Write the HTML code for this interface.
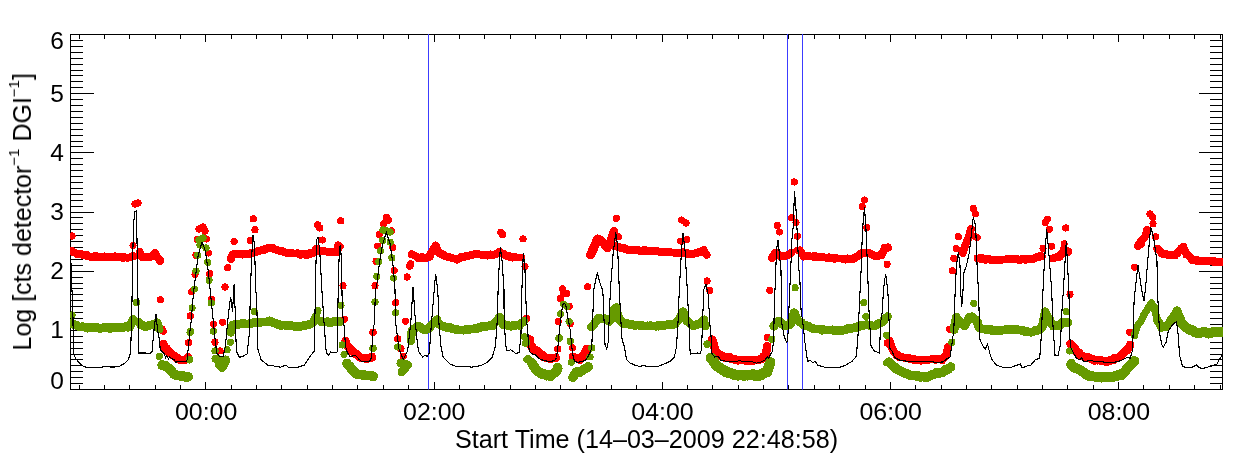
<!DOCTYPE html><html><head><meta charset="utf-8"><style>html,body{margin:0;padding:0;background:#fff;}svg{display:block} text{will-change:transform}</style></head><body>
<svg width="1240" height="460" viewBox="0 0 1240 460" font-family="Liberation Sans, sans-serif">
<rect width="1240" height="460" fill="#fff"/>
<defs><clipPath id="c"><rect x="70" y="34" width="1153" height="356"/></clipPath></defs>
<path d="M70.5,34 V390 M1222.5,34 V390 M70,34.5 H1223 M70,389.5 H1223 M71,383.5 h12 M1222,383.5 h-12 M71,377.5 h12 M1222,377.5 h-12 M71,371.5 h12 M1222,371.5 h-12 M71,365.5 h12 M1222,365.5 h-12 M71,359.5 h12 M1222,359.5 h-12 M71,354.5 h12 M1222,354.5 h-12 M71,348.5 h12 M1222,348.5 h-12 M71,342.5 h12 M1222,342.5 h-12 M71,336.5 h12 M1222,336.5 h-12 M71,330.5 h23 M1222,330.5 h-23 M71,324.5 h12 M1222,324.5 h-12 M71,318.5 h12 M1222,318.5 h-12 M71,312.5 h12 M1222,312.5 h-12 M71,306.5 h12 M1222,306.5 h-12 M71,300.5 h12 M1222,300.5 h-12 M71,294.5 h12 M1222,294.5 h-12 M71,288.5 h12 M1222,288.5 h-12 M71,283.5 h12 M1222,283.5 h-12 M71,277.5 h12 M1222,277.5 h-12 M71,271.5 h23 M1222,271.5 h-23 M71,265.5 h12 M1222,265.5 h-12 M71,259.5 h12 M1222,259.5 h-12 M71,253.5 h12 M1222,253.5 h-12 M71,247.5 h12 M1222,247.5 h-12 M71,241.5 h12 M1222,241.5 h-12 M71,235.5 h12 M1222,235.5 h-12 M71,229.5 h12 M1222,229.5 h-12 M71,223.5 h12 M1222,223.5 h-12 M71,217.5 h12 M1222,217.5 h-12 M71,212.5 h23 M1222,212.5 h-23 M71,206.5 h12 M1222,206.5 h-12 M71,200.5 h12 M1222,200.5 h-12 M71,194.5 h12 M1222,194.5 h-12 M71,188.5 h12 M1222,188.5 h-12 M71,182.5 h12 M1222,182.5 h-12 M71,176.5 h12 M1222,176.5 h-12 M71,170.5 h12 M1222,170.5 h-12 M71,164.5 h12 M1222,164.5 h-12 M71,158.5 h12 M1222,158.5 h-12 M71,152.5 h23 M1222,152.5 h-23 M71,146.5 h12 M1222,146.5 h-12 M71,141.5 h12 M1222,141.5 h-12 M71,135.5 h12 M1222,135.5 h-12 M71,129.5 h12 M1222,129.5 h-12 M71,123.5 h12 M1222,123.5 h-12 M71,117.5 h12 M1222,117.5 h-12 M71,111.5 h12 M1222,111.5 h-12 M71,105.5 h12 M1222,105.5 h-12 M71,99.5 h12 M1222,99.5 h-12 M71,93.5 h23 M1222,93.5 h-23 M71,87.5 h12 M1222,87.5 h-12 M71,81.5 h12 M1222,81.5 h-12 M71,75.5 h12 M1222,75.5 h-12 M71,70.5 h12 M1222,70.5 h-12 M71,64.5 h12 M1222,64.5 h-12 M71,58.5 h12 M1222,58.5 h-12 M71,52.5 h12 M1222,52.5 h-12 M71,46.5 h12 M1222,46.5 h-12 M71,40.5 h12 M1222,40.5 h-12 M79.5,389 v-4 M79.5,35 v4 M104.5,389 v-4 M104.5,35 v4 M129.5,389 v-4 M129.5,35 v4 M155.5,389 v-4 M155.5,35 v4 M180.5,389 v-4 M180.5,35 v4 M205.5,389 v-7 M205.5,35 v7 M231.5,389 v-4 M231.5,35 v4 M256.5,389 v-4 M256.5,35 v4 M281.5,389 v-4 M281.5,35 v4 M307.5,389 v-4 M307.5,35 v4 M332.5,389 v-4 M332.5,35 v4 M357.5,389 v-4 M357.5,35 v4 M383.5,389 v-4 M383.5,35 v4 M408.5,389 v-4 M408.5,35 v4 M434.5,389 v-7 M434.5,35 v7 M459.5,389 v-4 M459.5,35 v4 M484.5,389 v-4 M484.5,35 v4 M510.5,389 v-4 M510.5,35 v4 M535.5,389 v-4 M535.5,35 v4 M560.5,389 v-4 M560.5,35 v4 M586.5,389 v-4 M586.5,35 v4 M611.5,389 v-4 M611.5,35 v4 M636.5,389 v-4 M636.5,35 v4 M662.5,389 v-7 M662.5,35 v7 M687.5,389 v-4 M687.5,35 v4 M712.5,389 v-4 M712.5,35 v4 M738.5,389 v-4 M738.5,35 v4 M763.5,389 v-4 M763.5,35 v4 M788.5,389 v-4 M788.5,35 v4 M814.5,389 v-4 M814.5,35 v4 M839.5,389 v-4 M839.5,35 v4 M865.5,389 v-4 M865.5,35 v4 M890.5,389 v-7 M890.5,35 v7 M915.5,389 v-4 M915.5,35 v4 M941.5,389 v-4 M941.5,35 v4 M966.5,389 v-4 M966.5,35 v4 M991.5,389 v-4 M991.5,35 v4 M1017.5,389 v-4 M1017.5,35 v4 M1042.5,389 v-4 M1042.5,35 v4 M1067.5,389 v-4 M1067.5,35 v4 M1093.5,389 v-4 M1093.5,35 v4 M1118.5,389 v-7 M1118.5,35 v7 M1143.5,389 v-4 M1143.5,35 v4 M1169.5,389 v-4 M1169.5,35 v4 M1194.5,389 v-4 M1194.5,35 v4 M1220.5,389 v-4 M1220.5,35 v4" stroke="#000" stroke-width="1" fill="none" shape-rendering="crispEdges"/>
<g stroke="#3c3cff" stroke-width="1" fill="none">
<line x1="428.5" y1="34" x2="428.5" y2="389.5"/>
<line x1="787.5" y1="34" x2="787.5" y2="389.5"/>
<line x1="802.5" y1="34" x2="802.5" y2="389.5"/>
</g>
<g clip-path="url(#c)" fill="#ff0000" stroke="#ff0000" shape-rendering="crispEdges">
<polyline points="70.5,251.0 72.0,251.5 78.0,254.0 90.0,256.5 110.0,257.0 130.0,257.5 133.0,256.0" fill="none" stroke-width="7.800000000000001" stroke-linecap="round" stroke-linejoin="round"/>
<polyline points="139.7,252.0 142.0,257.0 150.0,257.5 155.0,253.0 158.0,258.0 160.0,261.0" fill="none" stroke-width="7.800000000000001" stroke-linecap="round" stroke-linejoin="round"/>
<polyline points="163.5,344.0 164.4,346.5 169.1,351.9 173.9,356.0 179.9,359.6 184.7,360.2 187.5,358.0" fill="none" stroke-width="8.4" stroke-linecap="round" stroke-linejoin="round"/>
<polyline points="230.8,258.5 233.0,254.1 240.0,254.0 248.0,254.1 256.7,252.0 268.7,247.6 276.3,249.8 287.1,253.0 298.0,253.7 306.7,254.8 313.2,253.0 316.5,248.7" fill="none" stroke-width="7.800000000000001" stroke-linecap="round" stroke-linejoin="round"/>
<polyline points="320.8,250.9 330.6,252.0 337.1,252.0 338.2,245.4" fill="none" stroke-width="7.800000000000001" stroke-linecap="round" stroke-linejoin="round"/>
<polyline points="345.5,341.0 347.0,345.5 351.7,351.0 356.5,354.5 361.3,357.8 367.3,358.7 372.1,357.5" fill="none" stroke-width="8.4" stroke-linecap="round" stroke-linejoin="round"/>
<polyline points="411.9,254.1 418.4,257.4 425.0,258.5 429.3,256.3 432.3,250.9 435.6,245.4 438.9,253.0 445.4,256.3 456.3,259.1 465.0,256.3 475.8,254.1 484.5,255.2 493.2,255.2 499.7,252.0 505.2,255.2 515.0,257.4 521.5,257.4" fill="none" stroke-width="7.800000000000001" stroke-linecap="round" stroke-linejoin="round"/>
<polyline points="531.0,345.0 532.0,348.0 538.0,352.0 543.9,357.0 549.9,358.7 555.9,358.0" fill="none" stroke-width="8.4" stroke-linecap="round" stroke-linejoin="round"/>
<polyline points="573.2,357.0 579.8,359.6 584.6,353.9 586.5,349.0" fill="none" stroke-width="8.4" stroke-linecap="round" stroke-linejoin="round"/>
<polyline points="590.4,254.8 594.1,247.6 597.3,238.9 600.0,240.0 602.8,242.2 605.0,245.0 607.1,247.6 610.4,242.2 613.7,232.4" fill="none" stroke-width="8.9" stroke-linecap="round" stroke-linejoin="round"/>
<polyline points="608.0,247.6 610.2,244.3 618.9,247.6 629.7,249.8 640.6,250.9 651.5,250.9 662.3,252.0 673.2,252.6 679.7,253.0 686.3,253.0 692.8,254.1 699.3,252.0 703.7,249.8 706.3,254.8" fill="none" stroke-width="7.800000000000001" stroke-linecap="round" stroke-linejoin="round"/>
<polyline points="712.4,340.0 714.6,348.0 717.0,353.0 723.0,356.2 734.9,359.5 746.9,360.5 758.8,360.2 764.0,357.0 766.0,353.5 767.2,346.0" fill="none" stroke-width="8.4" stroke-linecap="round" stroke-linejoin="round"/>
<polyline points="771.9,258.0 775.2,252.6 780.6,255.9 785.0,255.9 789.3,254.8 791.5,252.6" fill="none" stroke-width="7.800000000000001" stroke-linecap="round" stroke-linejoin="round"/>
<polyline points="800.0,250.4 803.2,255.9 809.7,256.5 820.6,257.0 831.5,258.0 842.3,258.7 853.2,259.1 857.6,255.9 861.9,252.6 868.4,252.6 875.0,255.9 881.5,254.8 884.7,248.3 888.0,247.2" fill="none" stroke-width="7.800000000000001" stroke-linecap="round" stroke-linejoin="round"/>
<polyline points="889.5,341.0 891.0,346.0 894.0,352.0 897.0,355.5 903.0,357.5 909.0,358.7 921.0,360.2 932.8,359.3 942.4,359.4 946.5,354.0 948.0,347.0" fill="none" stroke-width="8.0" stroke-linecap="round" stroke-linejoin="round"/>
<polyline points="962.8,253.0 965.0,245.4 968.2,238.9 971.0,229.1" fill="none" stroke-width="7.800000000000001" stroke-linecap="round" stroke-linejoin="round"/>
<polyline points="977.8,258.5 985.4,259.1 994.1,260.0 1002.8,259.6 1011.5,259.1 1022.3,259.6 1033.2,258.5 1041.9,256.3" fill="none" stroke-width="7.800000000000001" stroke-linecap="round" stroke-linejoin="round"/>
<polyline points="1052.8,258.5 1059.3,256.3 1061.3,255.2 1064.0,250.0 1068.4,252.0" fill="none" stroke-width="7.800000000000001" stroke-linecap="round" stroke-linejoin="round"/>
<polyline points="1070.4,343.5 1072.5,346.0 1077.0,351.5 1083.0,356.6 1094.9,359.9 1106.9,361.1 1118.8,357.5 1127.2,350.0 1130.2,345.5" fill="none" stroke-width="8.4" stroke-linecap="round" stroke-linejoin="round"/>
<polyline points="1138.0,246.1 1140.6,242.2 1143.3,238.9 1145.0,236.7 1147.1,230.2" fill="none" stroke-width="7.800000000000001" stroke-linecap="round" stroke-linejoin="round"/>
<polyline points="1157.4,248.7 1161.7,253.0 1168.3,255.2 1174.8,255.2 1181.3,248.7 1183.5,247.6 1186.7,254.1 1192.2,259.6 1200.9,260.7 1209.6,260.7 1218.3,261.7 1223.0,261.7" fill="none" stroke-width="7.800000000000001" stroke-linecap="round" stroke-linejoin="round"/>
</g>
<g clip-path="url(#c)" fill="#ff0000" shape-rendering="crispEdges">
<circle cx="70.1" cy="251.7" r="3.8"/>
<circle cx="72.3" cy="251.0" r="3.8"/>
<circle cx="75.0" cy="252.6" r="3.8"/>
<circle cx="78.2" cy="254.6" r="3.8"/>
<circle cx="80.6" cy="253.7" r="3.8"/>
<circle cx="84.3" cy="255.1" r="3.8"/>
<circle cx="87.3" cy="254.9" r="3.8"/>
<circle cx="89.9" cy="256.9" r="3.8"/>
<circle cx="92.2" cy="257.5" r="3.8"/>
<circle cx="95.4" cy="255.7" r="3.8"/>
<circle cx="97.0" cy="256.8" r="3.8"/>
<circle cx="100.4" cy="256.5" r="3.8"/>
<circle cx="102.2" cy="256.7" r="3.8"/>
<circle cx="104.5" cy="256.3" r="3.8"/>
<circle cx="107.4" cy="256.9" r="3.8"/>
<circle cx="109.7" cy="256.5" r="3.8"/>
<circle cx="112.2" cy="257.0" r="3.8"/>
<circle cx="114.8" cy="256.2" r="3.8"/>
<circle cx="117.8" cy="257.3" r="3.8"/>
<circle cx="120.1" cy="256.6" r="3.8"/>
<circle cx="123.0" cy="258.0" r="3.8"/>
<circle cx="124.6" cy="257.0" r="3.8"/>
<circle cx="127.7" cy="257.9" r="3.8"/>
<circle cx="130.4" cy="257.3" r="3.8"/>
<circle cx="133.3" cy="256.3" r="3.8"/>
<circle cx="139.5" cy="252.2" r="3.8"/>
<circle cx="141.2" cy="255.2" r="3.8"/>
<circle cx="142.0" cy="257.2" r="3.8"/>
<circle cx="144.2" cy="256.7" r="3.8"/>
<circle cx="147.6" cy="257.2" r="3.8"/>
<circle cx="149.7" cy="257.6" r="3.8"/>
<circle cx="152.7" cy="255.6" r="3.8"/>
<circle cx="154.9" cy="252.9" r="3.8"/>
<circle cx="156.5" cy="256.1" r="3.8"/>
<circle cx="158.0" cy="257.8" r="3.8"/>
<circle cx="160.0" cy="260.1" r="3.8"/>
<circle cx="163.0" cy="344.4" r="4.1"/>
<circle cx="164.9" cy="346.7" r="4.1"/>
<circle cx="166.6" cy="348.5" r="4.1"/>
<circle cx="169.1" cy="352.9" r="4.1"/>
<circle cx="171.8" cy="354.0" r="4.1"/>
<circle cx="174.3" cy="355.5" r="4.1"/>
<circle cx="176.9" cy="358.7" r="4.1"/>
<circle cx="180.0" cy="359.5" r="4.1"/>
<circle cx="184.5" cy="360.3" r="4.1"/>
<circle cx="188.0" cy="357.0" r="4.1"/>
<circle cx="231.1" cy="259.1" r="3.8"/>
<circle cx="233.4" cy="254.6" r="3.8"/>
<circle cx="236.8" cy="254.1" r="3.8"/>
<circle cx="240.1" cy="253.9" r="3.8"/>
<circle cx="242.2" cy="254.8" r="3.8"/>
<circle cx="245.4" cy="253.5" r="3.8"/>
<circle cx="248.0" cy="254.1" r="3.8"/>
<circle cx="250.8" cy="253.1" r="3.8"/>
<circle cx="253.8" cy="252.9" r="3.8"/>
<circle cx="256.8" cy="251.9" r="3.8"/>
<circle cx="258.6" cy="250.6" r="3.8"/>
<circle cx="261.2" cy="250.4" r="3.8"/>
<circle cx="264.3" cy="250.0" r="3.8"/>
<circle cx="266.6" cy="249.1" r="3.8"/>
<circle cx="268.5" cy="248.3" r="3.8"/>
<circle cx="271.4" cy="247.5" r="3.8"/>
<circle cx="273.3" cy="248.1" r="3.8"/>
<circle cx="276.6" cy="249.3" r="3.8"/>
<circle cx="278.6" cy="250.8" r="3.8"/>
<circle cx="281.5" cy="250.5" r="3.8"/>
<circle cx="284.1" cy="252.3" r="3.8"/>
<circle cx="286.8" cy="252.5" r="3.8"/>
<circle cx="290.0" cy="253.1" r="3.8"/>
<circle cx="292.4" cy="253.3" r="3.8"/>
<circle cx="294.8" cy="253.3" r="3.8"/>
<circle cx="297.9" cy="253.1" r="3.8"/>
<circle cx="300.5" cy="254.9" r="3.8"/>
<circle cx="303.8" cy="253.9" r="3.8"/>
<circle cx="306.8" cy="255.4" r="3.8"/>
<circle cx="309.5" cy="252.9" r="3.8"/>
<circle cx="312.8" cy="253.4" r="3.8"/>
<circle cx="314.5" cy="251.3" r="3.8"/>
<circle cx="316.7" cy="248.8" r="3.8"/>
<circle cx="320.5" cy="251.9" r="3.8"/>
<circle cx="324.4" cy="251.3" r="3.8"/>
<circle cx="327.1" cy="251.9" r="3.8"/>
<circle cx="330.5" cy="252.2" r="3.8"/>
<circle cx="333.7" cy="252.3" r="3.8"/>
<circle cx="336.7" cy="251.6" r="3.8"/>
<circle cx="338.1" cy="249.5" r="3.8"/>
<circle cx="338.0" cy="246.1" r="3.8"/>
<circle cx="345.3" cy="341.9" r="4.1"/>
<circle cx="347.2" cy="345.3" r="4.1"/>
<circle cx="349.1" cy="347.3" r="4.1"/>
<circle cx="352.1" cy="350.1" r="4.1"/>
<circle cx="354.4" cy="353.7" r="4.1"/>
<circle cx="356.6" cy="353.8" r="4.1"/>
<circle cx="359.3" cy="357.1" r="4.1"/>
<circle cx="361.5" cy="357.8" r="4.1"/>
<circle cx="364.2" cy="357.9" r="4.1"/>
<circle cx="367.0" cy="359.0" r="4.1"/>
<circle cx="372.0" cy="356.9" r="4.1"/>
<circle cx="411.5" cy="254.4" r="3.8"/>
<circle cx="414.9" cy="255.7" r="3.8"/>
<circle cx="418.2" cy="258.1" r="3.8"/>
<circle cx="422.1" cy="257.0" r="3.8"/>
<circle cx="424.7" cy="258.2" r="3.8"/>
<circle cx="429.8" cy="256.9" r="3.8"/>
<circle cx="430.6" cy="253.0" r="3.8"/>
<circle cx="432.5" cy="251.6" r="3.8"/>
<circle cx="434.4" cy="247.8" r="3.8"/>
<circle cx="436.0" cy="245.8" r="3.8"/>
<circle cx="436.7" cy="248.9" r="3.8"/>
<circle cx="437.5" cy="250.9" r="3.8"/>
<circle cx="438.5" cy="252.3" r="3.8"/>
<circle cx="442.6" cy="254.1" r="3.8"/>
<circle cx="445.7" cy="256.5" r="3.8"/>
<circle cx="448.5" cy="256.7" r="3.8"/>
<circle cx="450.7" cy="257.3" r="3.8"/>
<circle cx="453.9" cy="258.6" r="3.8"/>
<circle cx="456.8" cy="259.9" r="3.8"/>
<circle cx="458.8" cy="258.3" r="3.8"/>
<circle cx="461.7" cy="256.3" r="3.8"/>
<circle cx="464.6" cy="257.0" r="3.8"/>
<circle cx="468.0" cy="256.4" r="3.8"/>
<circle cx="470.2" cy="255.4" r="3.8"/>
<circle cx="473.4" cy="254.4" r="3.8"/>
<circle cx="475.9" cy="253.5" r="3.8"/>
<circle cx="478.3" cy="254.0" r="3.8"/>
<circle cx="482.0" cy="255.0" r="3.8"/>
<circle cx="484.9" cy="255.1" r="3.8"/>
<circle cx="487.2" cy="255.8" r="3.8"/>
<circle cx="490.6" cy="254.2" r="3.8"/>
<circle cx="493.4" cy="254.4" r="3.8"/>
<circle cx="496.1" cy="254.4" r="3.8"/>
<circle cx="499.2" cy="251.5" r="3.8"/>
<circle cx="502.9" cy="253.4" r="3.8"/>
<circle cx="504.8" cy="254.5" r="3.8"/>
<circle cx="507.4" cy="256.2" r="3.8"/>
<circle cx="509.7" cy="257.1" r="3.8"/>
<circle cx="512.4" cy="257.8" r="3.8"/>
<circle cx="515.4" cy="257.0" r="3.8"/>
<circle cx="518.0" cy="257.4" r="3.8"/>
<circle cx="521.1" cy="257.7" r="3.8"/>
<circle cx="530.5" cy="344.0" r="4.1"/>
<circle cx="532.5" cy="347.6" r="4.1"/>
<circle cx="535.1" cy="349.9" r="4.1"/>
<circle cx="537.8" cy="351.1" r="4.1"/>
<circle cx="540.4" cy="354.6" r="4.1"/>
<circle cx="542.4" cy="354.6" r="4.1"/>
<circle cx="543.6" cy="357.2" r="4.1"/>
<circle cx="547.4" cy="357.9" r="4.1"/>
<circle cx="550.1" cy="359.0" r="4.1"/>
<circle cx="552.7" cy="358.4" r="4.1"/>
<circle cx="555.7" cy="357.5" r="4.1"/>
<circle cx="572.8" cy="356.6" r="4.1"/>
<circle cx="577.0" cy="358.2" r="4.1"/>
<circle cx="580.0" cy="359.9" r="4.1"/>
<circle cx="582.6" cy="356.5" r="4.1"/>
<circle cx="584.4" cy="353.6" r="4.1"/>
<circle cx="585.4" cy="352.1" r="4.1"/>
<circle cx="586.9" cy="348.6" r="4.1"/>
<circle cx="590.2" cy="254.9" r="4.3"/>
<circle cx="591.7" cy="252.6" r="4.3"/>
<circle cx="592.6" cy="249.0" r="4.3"/>
<circle cx="593.8" cy="246.7" r="4.3"/>
<circle cx="595.2" cy="243.8" r="4.3"/>
<circle cx="595.8" cy="242.1" r="4.3"/>
<circle cx="597.1" cy="239.5" r="4.3"/>
<circle cx="600.0" cy="240.7" r="4.3"/>
<circle cx="602.5" cy="242.2" r="4.3"/>
<circle cx="605.3" cy="244.2" r="4.3"/>
<circle cx="607.5" cy="246.9" r="4.3"/>
<circle cx="609.0" cy="245.9" r="4.3"/>
<circle cx="610.7" cy="241.8" r="4.3"/>
<circle cx="610.8" cy="239.8" r="4.3"/>
<circle cx="612.5" cy="236.9" r="4.3"/>
<circle cx="613.3" cy="234.1" r="4.3"/>
<circle cx="614.1" cy="231.5" r="4.3"/>
<circle cx="607.8" cy="248.4" r="3.8"/>
<circle cx="610.5" cy="245.1" r="3.8"/>
<circle cx="613.4" cy="245.9" r="3.8"/>
<circle cx="616.2" cy="245.9" r="3.8"/>
<circle cx="618.8" cy="246.9" r="3.8"/>
<circle cx="621.8" cy="248.5" r="3.8"/>
<circle cx="624.1" cy="247.8" r="3.8"/>
<circle cx="627.5" cy="249.9" r="3.8"/>
<circle cx="629.7" cy="249.9" r="3.8"/>
<circle cx="632.8" cy="250.0" r="3.8"/>
<circle cx="635.0" cy="250.0" r="3.8"/>
<circle cx="637.6" cy="249.7" r="3.8"/>
<circle cx="640.7" cy="250.7" r="3.8"/>
<circle cx="643.4" cy="250.0" r="3.8"/>
<circle cx="645.9" cy="250.2" r="3.8"/>
<circle cx="648.4" cy="250.4" r="3.8"/>
<circle cx="651.8" cy="250.7" r="3.8"/>
<circle cx="654.1" cy="251.4" r="3.8"/>
<circle cx="656.6" cy="250.5" r="3.8"/>
<circle cx="659.6" cy="251.7" r="3.8"/>
<circle cx="662.4" cy="251.9" r="3.8"/>
<circle cx="665.2" cy="252.6" r="3.8"/>
<circle cx="667.5" cy="252.3" r="3.8"/>
<circle cx="670.5" cy="251.9" r="3.8"/>
<circle cx="673.1" cy="252.7" r="3.8"/>
<circle cx="676.9" cy="253.6" r="3.8"/>
<circle cx="679.5" cy="253.3" r="3.8"/>
<circle cx="682.5" cy="252.1" r="3.8"/>
<circle cx="686.3" cy="253.8" r="3.8"/>
<circle cx="689.2" cy="254.1" r="3.8"/>
<circle cx="693.2" cy="253.7" r="3.8"/>
<circle cx="696.2" cy="253.7" r="3.8"/>
<circle cx="699.2" cy="252.4" r="3.8"/>
<circle cx="703.9" cy="250.0" r="3.8"/>
<circle cx="705.4" cy="253.1" r="3.8"/>
<circle cx="706.8" cy="254.9" r="3.8"/>
<circle cx="712.1" cy="339.5" r="4.1"/>
<circle cx="712.9" cy="342.8" r="4.1"/>
<circle cx="714.1" cy="344.4" r="4.1"/>
<circle cx="714.8" cy="348.4" r="4.1"/>
<circle cx="715.6" cy="350.5" r="4.1"/>
<circle cx="716.7" cy="353.5" r="4.1"/>
<circle cx="719.5" cy="355.6" r="4.1"/>
<circle cx="723.3" cy="356.5" r="4.1"/>
<circle cx="725.7" cy="357.9" r="4.1"/>
<circle cx="729.4" cy="357.1" r="4.1"/>
<circle cx="732.2" cy="359.4" r="4.1"/>
<circle cx="735.1" cy="359.9" r="4.1"/>
<circle cx="737.8" cy="360.6" r="4.1"/>
<circle cx="741.4" cy="359.8" r="4.1"/>
<circle cx="744.2" cy="360.1" r="4.1"/>
<circle cx="746.6" cy="360.2" r="4.1"/>
<circle cx="749.5" cy="361.2" r="4.1"/>
<circle cx="753.3" cy="359.6" r="4.1"/>
<circle cx="755.9" cy="360.1" r="4.1"/>
<circle cx="758.4" cy="359.8" r="4.1"/>
<circle cx="761.1" cy="359.1" r="4.1"/>
<circle cx="763.5" cy="356.4" r="4.1"/>
<circle cx="765.9" cy="352.5" r="4.1"/>
<circle cx="766.5" cy="351.2" r="4.1"/>
<circle cx="767.1" cy="347.9" r="4.1"/>
<circle cx="767.0" cy="346.1" r="4.1"/>
<circle cx="771.7" cy="258.2" r="3.8"/>
<circle cx="773.3" cy="255.7" r="3.8"/>
<circle cx="775.5" cy="253.2" r="3.8"/>
<circle cx="778.4" cy="254.3" r="3.8"/>
<circle cx="780.6" cy="256.6" r="3.8"/>
<circle cx="785.3" cy="256.0" r="3.8"/>
<circle cx="789.2" cy="254.4" r="3.8"/>
<circle cx="791.1" cy="253.2" r="3.8"/>
<circle cx="799.6" cy="250.9" r="3.8"/>
<circle cx="801.6" cy="254.1" r="3.8"/>
<circle cx="803.5" cy="256.8" r="3.8"/>
<circle cx="806.1" cy="256.2" r="3.8"/>
<circle cx="809.8" cy="256.1" r="3.8"/>
<circle cx="812.4" cy="256.3" r="3.8"/>
<circle cx="815.2" cy="255.8" r="3.8"/>
<circle cx="817.8" cy="256.8" r="3.8"/>
<circle cx="820.4" cy="256.8" r="3.8"/>
<circle cx="823.6" cy="257.6" r="3.8"/>
<circle cx="826.0" cy="257.8" r="3.8"/>
<circle cx="828.7" cy="257.2" r="3.8"/>
<circle cx="831.0" cy="257.6" r="3.8"/>
<circle cx="834.3" cy="258.9" r="3.8"/>
<circle cx="837.2" cy="258.4" r="3.8"/>
<circle cx="840.1" cy="258.4" r="3.8"/>
<circle cx="842.6" cy="258.5" r="3.8"/>
<circle cx="845.3" cy="259.8" r="3.8"/>
<circle cx="847.6" cy="258.2" r="3.8"/>
<circle cx="850.6" cy="259.1" r="3.8"/>
<circle cx="853.1" cy="258.1" r="3.8"/>
<circle cx="855.3" cy="257.4" r="3.8"/>
<circle cx="857.5" cy="256.6" r="3.8"/>
<circle cx="859.8" cy="254.7" r="3.8"/>
<circle cx="862.3" cy="253.1" r="3.8"/>
<circle cx="865.1" cy="253.1" r="3.8"/>
<circle cx="868.5" cy="252.9" r="3.8"/>
<circle cx="871.8" cy="254.1" r="3.8"/>
<circle cx="875.1" cy="256.2" r="3.8"/>
<circle cx="878.7" cy="255.9" r="3.8"/>
<circle cx="881.8" cy="255.3" r="3.8"/>
<circle cx="883.4" cy="251.8" r="3.8"/>
<circle cx="884.5" cy="247.8" r="3.8"/>
<circle cx="888.2" cy="247.9" r="3.8"/>
<circle cx="889.5" cy="340.3" r="3.9"/>
<circle cx="890.6" cy="343.5" r="3.9"/>
<circle cx="891.0" cy="345.1" r="3.9"/>
<circle cx="892.5" cy="349.5" r="3.9"/>
<circle cx="893.9" cy="351.7" r="3.9"/>
<circle cx="897.2" cy="354.5" r="3.9"/>
<circle cx="900.0" cy="357.4" r="3.9"/>
<circle cx="903.2" cy="357.3" r="3.9"/>
<circle cx="906.2" cy="358.3" r="3.9"/>
<circle cx="908.7" cy="358.1" r="3.9"/>
<circle cx="912.4" cy="358.6" r="3.9"/>
<circle cx="914.6" cy="360.1" r="3.9"/>
<circle cx="918.0" cy="359.6" r="3.9"/>
<circle cx="921.0" cy="360.7" r="3.9"/>
<circle cx="923.6" cy="360.3" r="3.9"/>
<circle cx="927.1" cy="360.4" r="3.9"/>
<circle cx="929.6" cy="359.7" r="3.9"/>
<circle cx="932.5" cy="359.4" r="3.9"/>
<circle cx="935.7" cy="359.9" r="3.9"/>
<circle cx="939.6" cy="359.0" r="3.9"/>
<circle cx="942.1" cy="360.3" r="3.9"/>
<circle cx="944.7" cy="357.4" r="3.9"/>
<circle cx="946.0" cy="354.8" r="3.9"/>
<circle cx="947.4" cy="350.1" r="3.9"/>
<circle cx="947.9" cy="347.5" r="3.9"/>
<circle cx="963.1" cy="252.4" r="3.8"/>
<circle cx="963.7" cy="249.8" r="3.8"/>
<circle cx="964.7" cy="247.8" r="3.8"/>
<circle cx="965.4" cy="245.9" r="3.8"/>
<circle cx="966.7" cy="241.7" r="3.8"/>
<circle cx="968.2" cy="238.2" r="3.8"/>
<circle cx="968.5" cy="236.9" r="3.8"/>
<circle cx="969.5" cy="234.5" r="3.8"/>
<circle cx="970.0" cy="232.0" r="3.8"/>
<circle cx="971.2" cy="228.7" r="3.8"/>
<circle cx="977.4" cy="258.3" r="3.8"/>
<circle cx="980.3" cy="257.9" r="3.8"/>
<circle cx="982.6" cy="258.0" r="3.8"/>
<circle cx="985.5" cy="259.9" r="3.8"/>
<circle cx="988.0" cy="258.5" r="3.8"/>
<circle cx="991.4" cy="260.3" r="3.8"/>
<circle cx="994.6" cy="260.2" r="3.8"/>
<circle cx="996.8" cy="260.5" r="3.8"/>
<circle cx="999.5" cy="260.1" r="3.8"/>
<circle cx="1002.4" cy="259.4" r="3.8"/>
<circle cx="1005.7" cy="259.2" r="3.8"/>
<circle cx="1008.3" cy="258.7" r="3.8"/>
<circle cx="1011.8" cy="259.0" r="3.8"/>
<circle cx="1014.3" cy="258.6" r="3.8"/>
<circle cx="1017.1" cy="259.0" r="3.8"/>
<circle cx="1019.7" cy="260.3" r="3.8"/>
<circle cx="1022.8" cy="258.7" r="3.8"/>
<circle cx="1025.3" cy="260.0" r="3.8"/>
<circle cx="1027.6" cy="258.8" r="3.8"/>
<circle cx="1030.6" cy="259.6" r="3.8"/>
<circle cx="1033.1" cy="259.3" r="3.8"/>
<circle cx="1036.4" cy="257.1" r="3.8"/>
<circle cx="1039.4" cy="256.1" r="3.8"/>
<circle cx="1041.5" cy="256.6" r="3.8"/>
<circle cx="1052.4" cy="258.3" r="3.8"/>
<circle cx="1055.7" cy="257.3" r="3.8"/>
<circle cx="1059.6" cy="257.1" r="3.8"/>
<circle cx="1060.8" cy="254.3" r="3.8"/>
<circle cx="1063.0" cy="251.7" r="3.8"/>
<circle cx="1063.8" cy="249.2" r="3.8"/>
<circle cx="1068.0" cy="251.1" r="3.8"/>
<circle cx="1070.5" cy="344.0" r="4.1"/>
<circle cx="1072.7" cy="346.7" r="4.1"/>
<circle cx="1074.9" cy="348.5" r="4.1"/>
<circle cx="1077.1" cy="352.4" r="4.1"/>
<circle cx="1079.1" cy="352.7" r="4.1"/>
<circle cx="1080.6" cy="355.8" r="4.1"/>
<circle cx="1083.1" cy="356.3" r="4.1"/>
<circle cx="1086.1" cy="357.5" r="4.1"/>
<circle cx="1089.0" cy="357.4" r="4.1"/>
<circle cx="1091.8" cy="358.9" r="4.1"/>
<circle cx="1094.6" cy="360.7" r="4.1"/>
<circle cx="1097.8" cy="360.5" r="4.1"/>
<circle cx="1101.1" cy="361.0" r="4.1"/>
<circle cx="1104.1" cy="361.3" r="4.1"/>
<circle cx="1106.7" cy="362.1" r="4.1"/>
<circle cx="1109.5" cy="361.0" r="4.1"/>
<circle cx="1113.2" cy="360.0" r="4.1"/>
<circle cx="1115.4" cy="357.6" r="4.1"/>
<circle cx="1119.1" cy="357.4" r="4.1"/>
<circle cx="1120.8" cy="356.6" r="4.1"/>
<circle cx="1122.5" cy="353.8" r="4.1"/>
<circle cx="1125.0" cy="351.1" r="4.1"/>
<circle cx="1127.1" cy="350.4" r="4.1"/>
<circle cx="1129.1" cy="346.8" r="4.1"/>
<circle cx="1130.2" cy="344.7" r="4.1"/>
<circle cx="1138.3" cy="245.3" r="3.8"/>
<circle cx="1140.1" cy="242.0" r="3.8"/>
<circle cx="1143.5" cy="238.5" r="3.8"/>
<circle cx="1144.6" cy="237.3" r="3.8"/>
<circle cx="1146.4" cy="234.2" r="3.8"/>
<circle cx="1146.9" cy="230.0" r="3.8"/>
<circle cx="1157.1" cy="248.8" r="3.8"/>
<circle cx="1159.4" cy="250.5" r="3.8"/>
<circle cx="1162.0" cy="253.9" r="3.8"/>
<circle cx="1165.1" cy="253.3" r="3.8"/>
<circle cx="1168.5" cy="255.1" r="3.8"/>
<circle cx="1172.0" cy="255.6" r="3.8"/>
<circle cx="1175.1" cy="255.6" r="3.8"/>
<circle cx="1177.0" cy="253.8" r="3.8"/>
<circle cx="1179.5" cy="250.4" r="3.8"/>
<circle cx="1181.0" cy="248.4" r="3.8"/>
<circle cx="1183.5" cy="246.8" r="3.8"/>
<circle cx="1184.9" cy="251.0" r="3.8"/>
<circle cx="1186.2" cy="254.7" r="3.8"/>
<circle cx="1188.7" cy="255.6" r="3.8"/>
<circle cx="1190.2" cy="257.5" r="3.8"/>
<circle cx="1192.0" cy="260.1" r="3.8"/>
<circle cx="1195.1" cy="260.0" r="3.8"/>
<circle cx="1197.6" cy="261.2" r="3.8"/>
<circle cx="1200.7" cy="260.4" r="3.8"/>
<circle cx="1203.4" cy="261.7" r="3.8"/>
<circle cx="1206.7" cy="261.5" r="3.8"/>
<circle cx="1210.0" cy="261.6" r="3.8"/>
<circle cx="1212.8" cy="261.9" r="3.8"/>
<circle cx="1215.8" cy="262.0" r="3.8"/>
<circle cx="1217.9" cy="261.7" r="3.8"/>
<circle cx="1223.1" cy="262.7" r="3.8"/>
<circle cx="72.0" cy="236.0" r="3.6"/>
<circle cx="133.0" cy="245.4" r="3.6"/>
<circle cx="135.0" cy="204.0" r="3.6"/>
<circle cx="138.0" cy="203.0" r="3.6"/>
<circle cx="160.4" cy="299.8" r="3.6"/>
<circle cx="161.9" cy="329.0" r="3.6"/>
<circle cx="199.0" cy="229.0" r="3.6"/>
<circle cx="203.0" cy="227.0" r="3.6"/>
<circle cx="205.0" cy="231.0" r="3.6"/>
<circle cx="197.1" cy="239.6" r="3.6"/>
<circle cx="206.3" cy="239.0" r="3.6"/>
<circle cx="196.0" cy="255.2" r="3.6"/>
<circle cx="208.4" cy="253.0" r="3.6"/>
<circle cx="195.0" cy="274.3" r="3.6"/>
<circle cx="209.7" cy="273.7" r="3.6"/>
<circle cx="191.7" cy="291.7" r="3.6"/>
<circle cx="190.2" cy="316.0" r="3.6"/>
<circle cx="188.4" cy="342.8" r="3.6"/>
<circle cx="211.3" cy="299.1" r="3.6"/>
<circle cx="213.4" cy="324.1" r="3.6"/>
<circle cx="215.0" cy="342.2" r="3.6"/>
<circle cx="220.0" cy="350.9" r="3.6"/>
<circle cx="222.8" cy="322.2" r="3.6"/>
<circle cx="225.0" cy="287.0" r="3.6"/>
<circle cx="227.6" cy="267.6" r="3.6"/>
<circle cx="234.1" cy="241.5" r="3.6"/>
<circle cx="250.2" cy="240.4" r="3.6"/>
<circle cx="253.2" cy="218.9" r="3.6"/>
<circle cx="255.0" cy="229.8" r="3.6"/>
<circle cx="257.0" cy="252.0" r="3.6"/>
<circle cx="317.6" cy="224.8" r="3.6"/>
<circle cx="319.7" cy="228.0" r="3.6"/>
<circle cx="322.3" cy="240.0" r="3.6"/>
<circle cx="340.8" cy="220.9" r="3.6"/>
<circle cx="340.2" cy="246.5" r="3.6"/>
<circle cx="343.0" cy="285.7" r="3.6"/>
<circle cx="344.5" cy="319.3" r="3.6"/>
<circle cx="386.3" cy="217.2" r="3.6"/>
<circle cx="383.7" cy="223.7" r="3.6"/>
<circle cx="388.4" cy="220.4" r="3.6"/>
<circle cx="391.3" cy="230.9" r="3.6"/>
<circle cx="379.3" cy="234.6" r="3.6"/>
<circle cx="377.8" cy="246.1" r="3.6"/>
<circle cx="392.8" cy="247.6" r="3.6"/>
<circle cx="376.0" cy="261.3" r="3.6"/>
<circle cx="394.1" cy="270.4" r="3.6"/>
<circle cx="375.0" cy="285.7" r="3.6"/>
<circle cx="395.6" cy="302.6" r="3.6"/>
<circle cx="372.8" cy="332.4" r="3.6"/>
<circle cx="397.8" cy="338.9" r="3.6"/>
<circle cx="401.0" cy="348.7" r="3.6"/>
<circle cx="403.2" cy="356.3" r="3.6"/>
<circle cx="405.4" cy="321.1" r="3.6"/>
<circle cx="407.1" cy="277.0" r="3.6"/>
<circle cx="409.7" cy="266.1" r="3.6"/>
<circle cx="410.8" cy="263.9" r="3.6"/>
<circle cx="500.8" cy="232.4" r="3.6"/>
<circle cx="502.5" cy="234.5" r="3.6"/>
<circle cx="523.0" cy="238.9" r="3.6"/>
<circle cx="525.0" cy="266.5" r="3.6"/>
<circle cx="520.6" cy="257.4" r="3.6"/>
<circle cx="526.7" cy="318.3" r="3.6"/>
<circle cx="558.2" cy="321.5" r="3.6"/>
<circle cx="560.4" cy="298.7" r="3.6"/>
<circle cx="563.7" cy="293.3" r="3.6"/>
<circle cx="566.9" cy="293.3" r="3.6"/>
<circle cx="569.1" cy="306.3" r="3.6"/>
<circle cx="570.2" cy="323.7" r="3.6"/>
<circle cx="562.6" cy="288.9" r="3.6"/>
<circle cx="587.6" cy="286.7" r="3.6"/>
<circle cx="616.3" cy="218.3" r="3.6"/>
<circle cx="614.1" cy="230.9" r="3.6"/>
<circle cx="618.4" cy="236.7" r="3.6"/>
<circle cx="611.3" cy="238.9" r="3.6"/>
<circle cx="681.5" cy="220.0" r="3.6"/>
<circle cx="686.0" cy="223.0" r="3.6"/>
<circle cx="680.8" cy="241.1" r="3.6"/>
<circle cx="686.7" cy="239.6" r="3.6"/>
<circle cx="707.1" cy="281.0" r="3.6"/>
<circle cx="709.7" cy="290.4" r="3.6"/>
<circle cx="769.8" cy="290.4" r="3.6"/>
<circle cx="777.3" cy="225.4" r="3.6"/>
<circle cx="779.5" cy="232.0" r="3.6"/>
<circle cx="794.2" cy="182.0" r="3.6"/>
<circle cx="791.7" cy="217.8" r="3.6"/>
<circle cx="796.0" cy="222.4" r="3.6"/>
<circle cx="797.5" cy="236.3" r="3.6"/>
<circle cx="797.6" cy="250.4" r="3.6"/>
<circle cx="864.5" cy="200.0" r="3.6"/>
<circle cx="862.3" cy="206.5" r="3.6"/>
<circle cx="866.7" cy="227.6" r="3.6"/>
<circle cx="887.1" cy="264.2" r="3.6"/>
<circle cx="887.2" cy="343.1" r="3.6"/>
<circle cx="949.7" cy="329.1" r="3.6"/>
<circle cx="952.3" cy="270.9" r="3.6"/>
<circle cx="953.7" cy="258.5" r="3.6"/>
<circle cx="956.3" cy="248.7" r="3.6"/>
<circle cx="958.4" cy="236.7" r="3.6"/>
<circle cx="975.4" cy="236.7" r="3.6"/>
<circle cx="973.3" cy="208.5" r="3.6"/>
<circle cx="975.5" cy="213.9" r="3.6"/>
<circle cx="971.2" cy="229.1" r="3.6"/>
<circle cx="969.1" cy="237.8" r="3.6"/>
<circle cx="977.1" cy="237.4" r="3.6"/>
<circle cx="1047.3" cy="219.3" r="3.6"/>
<circle cx="1045.2" cy="222.6" r="3.6"/>
<circle cx="1049.5" cy="229.1" r="3.6"/>
<circle cx="1043.0" cy="248.3" r="3.6"/>
<circle cx="1051.7" cy="246.1" r="3.6"/>
<circle cx="1065.8" cy="228.0" r="3.6"/>
<circle cx="1064.1" cy="243.9" r="3.6"/>
<circle cx="1070.0" cy="294.3" r="3.6"/>
<circle cx="1130.8" cy="332.4" r="3.6"/>
<circle cx="1134.5" cy="267.2" r="3.6"/>
<circle cx="1150.0" cy="213.9" r="3.6"/>
<circle cx="1152.6" cy="217.2" r="3.6"/>
<circle cx="530.2" cy="339.0" r="3.6"/>
<circle cx="557.7" cy="349.0" r="3.6"/>
<circle cx="572.6" cy="347.9" r="3.6"/>
<circle cx="767.2" cy="337.4" r="3.6"/>
<circle cx="1129.6" cy="332.4" r="3.6"/>
<circle cx="188.9" cy="342.6" r="3.6"/>
<circle cx="163.2" cy="331.2" r="3.6"/>
<circle cx="373.3" cy="332.4" r="3.6"/>
<circle cx="1153.0" cy="223.7" r="3.6"/>
<circle cx="1155.6" cy="236.7" r="3.6"/>
<circle cx="1157.0" cy="248.7" r="3.6"/>
<circle cx="1146.5" cy="230.2" r="3.6"/>
<circle cx="1141.1" cy="244.3" r="3.6"/>
</g>
<g clip-path="url(#c)" fill="#669a00" stroke="#669a00" shape-rendering="crispEdges">
<polyline points="70.5,323.0 72.0,323.7 80.0,327.0 100.0,328.0 130.0,327.0 133.0,319.0" fill="none" stroke-width="8.6" stroke-linecap="round" stroke-linejoin="round"/>
<polyline points="138.0,322.0 145.0,327.0 155.0,323.7 157.0,322.6 159.3,329.0" fill="none" stroke-width="8.6" stroke-linecap="round" stroke-linejoin="round"/>
<polyline points="162.0,364.7 168.0,367.5 173.9,374.3 179.9,376.0 185.9,376.6 188.3,376.7" fill="none" stroke-width="9.4" stroke-linecap="round" stroke-linejoin="round"/>
<polyline points="216.0,359.0 221.0,360.0 226.0,360.0 224.0,365.0 222.0,368.0 219.0,365.0" fill="none" stroke-width="8.4" stroke-linecap="round" stroke-linejoin="round"/>
<polyline points="230.8,332.4 233.0,324.8 240.6,323.7 248.0,324.0 256.7,322.6 269.7,321.5 280.6,324.8 291.5,325.9 298.0,327.0 308.9,324.8 313.2,322.6 316.0,316.0" fill="none" stroke-width="8.6" stroke-linecap="round" stroke-linejoin="round"/>
<polyline points="320.8,321.5 330.6,322.6 337.1,321.5 339.1,321.5" fill="none" stroke-width="8.6" stroke-linecap="round" stroke-linejoin="round"/>
<polyline points="347.0,363.5 351.7,369.0 356.5,374.0 362.5,374.9 369.7,375.5 373.3,376.0" fill="none" stroke-width="9.4" stroke-linecap="round" stroke-linejoin="round"/>
<polyline points="401.0,362.8 407.6,365.0 402.1,371.5" fill="none" stroke-width="8.6" stroke-linecap="round" stroke-linejoin="round"/>
<polyline points="410.8,340.0 411.9,330.2 418.4,325.9 425.0,330.2 429.3,328.0 433.7,322.6 436.7,320.4 441.0,325.9 449.7,328.0 460.6,330.2 471.5,329.1 482.3,327.0 493.2,324.8 499.7,317.2 503.0,324.8 510.6,325.9 519.3,324.8 523.7,321.5" fill="none" stroke-width="8.6" stroke-linecap="round" stroke-linejoin="round"/>
<polyline points="532.0,363.0 536.7,370.7 543.9,374.3 549.9,376.0 555.9,371.9 557.7,368.3" fill="none" stroke-width="9.9" stroke-linecap="round" stroke-linejoin="round"/>
<polyline points="573.2,377.0 576.2,372.0 579.8,371.9 585.8,368.3 588.2,367.0" fill="none" stroke-width="9.4" stroke-linecap="round" stroke-linejoin="round"/>
<polyline points="591.9,327.0 598.4,318.3 605.0,319.3 609.3,321.5 612.3,318.3 613.7,309.6 616.3,307.4 617.8,316.0 623.2,323.7 634.1,324.8 645.0,325.9 655.8,325.9 666.7,324.8 675.4,323.7 679.7,318.3 683.0,311.7 686.3,320.4 692.8,325.9 699.3,323.7 703.7,320.4 705.3,326.1" fill="none" stroke-width="8.6" stroke-linecap="round" stroke-linejoin="round"/>
<polyline points="711.0,358.0 717.0,366.0 723.0,370.3 734.9,375.0 746.9,374.8 758.8,375.0 767.2,372.0 770.2,363.0" fill="none" stroke-width="10.4" stroke-linecap="round" stroke-linejoin="round"/>
<polyline points="773.7,326.1 778.9,320.9 784.2,326.1 789.4,324.8 790.6,323.5 794.5,313.1 798.4,320.9 803.7,324.8 814.1,328.7 827.2,330.0 840.2,330.6 850.7,328.7 858.5,326.1 866.3,324.8 874.2,326.1 882.0,322.2 885.6,318.3 887.2,317.0" fill="none" stroke-width="8.6" stroke-linecap="round" stroke-linejoin="round"/>
<polyline points="888.6,362.0 897.0,369.5 909.0,374.9 921.0,376.7 928.0,377.0 932.8,374.3 942.4,372.4 950.8,367.0" fill="none" stroke-width="9.4" stroke-linecap="round" stroke-linejoin="round"/>
<polyline points="954.1,329.1 956.3,317.2 960.6,322.6 965.0,325.9 969.3,317.2 972.3,317.2 976.7,320.4 978.9,328.0 989.7,330.2 1000.6,330.2 1011.5,329.1 1022.3,330.2 1031.0,332.4 1037.6,330.2 1041.9,328.0 1045.2,311.7 1048.4,318.3 1052.8,325.9 1059.3,325.9 1062.3,322.6 1067.8,322.6" fill="none" stroke-width="8.6" stroke-linecap="round" stroke-linejoin="round"/>
<polyline points="1071.0,364.5 1072.2,366.0 1079.4,369.5 1088.9,375.8 1100.9,377.5 1112.8,376.7 1122.4,374.3 1129.6,365.8 1134.4,361.0" fill="none" stroke-width="9.9" stroke-linecap="round" stroke-linejoin="round"/>
<polyline points="1134.5,334.6 1137.3,325.9 1140.6,321.5 1144.3,313.9 1149.3,306.3 1151.5,303.0 1154.1,307.4 1157.4,320.4" fill="none" stroke-width="7.2" stroke-linecap="round" stroke-linejoin="round"/>
<polyline points="1157.4,320.4 1161.7,327.0 1166.1,327.0 1172.6,318.3 1177.0,310.7 1180.2,318.3 1181.7,322.0" fill="none" stroke-width="8.6" stroke-linecap="round" stroke-linejoin="round"/>
<polyline points="1181.7,323.3 1187.2,328.2 1192.6,330.8 1198.0,333.6 1203.5,332.0 1208.9,333.6 1214.3,332.0 1223.0,332.0" fill="none" stroke-width="9.9" stroke-linecap="round" stroke-linejoin="round"/>
</g>
<g clip-path="url(#c)" fill="#669a00" shape-rendering="crispEdges">
<circle cx="71.0" cy="323.9" r="4.2"/>
<circle cx="71.6" cy="322.9" r="4.2"/>
<circle cx="75.0" cy="325.3" r="4.2"/>
<circle cx="77.5" cy="325.5" r="4.2"/>
<circle cx="80.1" cy="327.2" r="4.2"/>
<circle cx="82.6" cy="326.4" r="4.2"/>
<circle cx="84.9" cy="327.0" r="4.2"/>
<circle cx="87.7" cy="328.4" r="4.2"/>
<circle cx="90.4" cy="327.6" r="4.2"/>
<circle cx="92.4" cy="327.2" r="4.2"/>
<circle cx="94.5" cy="326.8" r="4.2"/>
<circle cx="97.5" cy="327.5" r="4.2"/>
<circle cx="99.9" cy="328.8" r="4.2"/>
<circle cx="102.5" cy="328.0" r="4.2"/>
<circle cx="104.7" cy="326.9" r="4.2"/>
<circle cx="107.3" cy="327.0" r="4.2"/>
<circle cx="110.0" cy="328.7" r="4.2"/>
<circle cx="112.7" cy="326.9" r="4.2"/>
<circle cx="115.4" cy="328.1" r="4.2"/>
<circle cx="117.7" cy="328.2" r="4.2"/>
<circle cx="120.3" cy="327.9" r="4.2"/>
<circle cx="122.4" cy="328.2" r="4.2"/>
<circle cx="125.5" cy="326.5" r="4.2"/>
<circle cx="127.8" cy="327.5" r="4.2"/>
<circle cx="130.0" cy="327.1" r="4.2"/>
<circle cx="131.0" cy="325.2" r="4.2"/>
<circle cx="132.0" cy="322.3" r="4.2"/>
<circle cx="132.9" cy="319.8" r="4.2"/>
<circle cx="138.4" cy="321.9" r="4.2"/>
<circle cx="140.4" cy="324.5" r="4.2"/>
<circle cx="142.9" cy="325.3" r="4.2"/>
<circle cx="144.7" cy="326.6" r="4.2"/>
<circle cx="147.7" cy="325.5" r="4.2"/>
<circle cx="150.4" cy="324.9" r="4.2"/>
<circle cx="152.9" cy="324.1" r="4.2"/>
<circle cx="155.5" cy="324.1" r="4.2"/>
<circle cx="157.0" cy="322.6" r="4.2"/>
<circle cx="158.3" cy="326.0" r="4.2"/>
<circle cx="159.1" cy="328.4" r="4.2"/>
<circle cx="162.0" cy="365.6" r="4.6"/>
<circle cx="165.1" cy="365.3" r="4.6"/>
<circle cx="168.3" cy="368.0" r="4.6"/>
<circle cx="170.4" cy="369.1" r="4.6"/>
<circle cx="172.2" cy="371.2" r="4.6"/>
<circle cx="174.1" cy="373.8" r="4.6"/>
<circle cx="176.6" cy="375.9" r="4.6"/>
<circle cx="179.5" cy="376.0" r="4.6"/>
<circle cx="183.3" cy="375.8" r="4.6"/>
<circle cx="185.6" cy="377.4" r="4.6"/>
<circle cx="188.2" cy="377.1" r="4.6"/>
<circle cx="215.5" cy="358.7" r="4.1"/>
<circle cx="218.2" cy="359.8" r="4.1"/>
<circle cx="220.6" cy="360.9" r="4.1"/>
<circle cx="223.0" cy="360.5" r="4.1"/>
<circle cx="225.5" cy="359.5" r="4.1"/>
<circle cx="225.3" cy="361.8" r="4.1"/>
<circle cx="223.7" cy="365.4" r="4.1"/>
<circle cx="221.9" cy="367.1" r="4.1"/>
<circle cx="219.5" cy="364.3" r="4.1"/>
<circle cx="230.3" cy="332.1" r="4.2"/>
<circle cx="231.6" cy="330.4" r="4.2"/>
<circle cx="231.9" cy="327.0" r="4.2"/>
<circle cx="232.5" cy="324.7" r="4.2"/>
<circle cx="235.8" cy="324.9" r="4.2"/>
<circle cx="238.5" cy="324.6" r="4.2"/>
<circle cx="241.0" cy="324.1" r="4.2"/>
<circle cx="244.3" cy="323.3" r="4.2"/>
<circle cx="248.2" cy="323.6" r="4.2"/>
<circle cx="250.5" cy="323.4" r="4.2"/>
<circle cx="254.2" cy="322.3" r="4.2"/>
<circle cx="256.8" cy="322.4" r="4.2"/>
<circle cx="259.3" cy="321.7" r="4.2"/>
<circle cx="262.4" cy="321.7" r="4.2"/>
<circle cx="264.6" cy="321.8" r="4.2"/>
<circle cx="266.6" cy="321.8" r="4.2"/>
<circle cx="269.3" cy="320.6" r="4.2"/>
<circle cx="272.0" cy="321.6" r="4.2"/>
<circle cx="274.7" cy="323.4" r="4.2"/>
<circle cx="277.9" cy="324.9" r="4.2"/>
<circle cx="281.0" cy="325.8" r="4.2"/>
<circle cx="283.1" cy="325.0" r="4.2"/>
<circle cx="285.8" cy="325.5" r="4.2"/>
<circle cx="288.9" cy="326.2" r="4.2"/>
<circle cx="291.7" cy="325.4" r="4.2"/>
<circle cx="294.7" cy="326.5" r="4.2"/>
<circle cx="297.5" cy="326.1" r="4.2"/>
<circle cx="300.6" cy="325.7" r="4.2"/>
<circle cx="303.7" cy="325.4" r="4.2"/>
<circle cx="305.8" cy="324.7" r="4.2"/>
<circle cx="308.6" cy="324.2" r="4.2"/>
<circle cx="313.2" cy="322.5" r="4.2"/>
<circle cx="314.4" cy="319.6" r="4.2"/>
<circle cx="315.7" cy="316.8" r="4.2"/>
<circle cx="321.3" cy="322.0" r="4.2"/>
<circle cx="324.0" cy="321.9" r="4.2"/>
<circle cx="327.4" cy="321.3" r="4.2"/>
<circle cx="330.5" cy="322.7" r="4.2"/>
<circle cx="333.5" cy="321.2" r="4.2"/>
<circle cx="337.4" cy="321.2" r="4.2"/>
<circle cx="339.1" cy="322.3" r="4.2"/>
<circle cx="347.1" cy="363.1" r="4.6"/>
<circle cx="349.8" cy="366.0" r="4.6"/>
<circle cx="351.2" cy="369.4" r="4.6"/>
<circle cx="353.7" cy="371.1" r="4.6"/>
<circle cx="356.8" cy="374.3" r="4.6"/>
<circle cx="359.0" cy="374.4" r="4.6"/>
<circle cx="362.4" cy="374.9" r="4.6"/>
<circle cx="365.8" cy="375.4" r="4.6"/>
<circle cx="369.3" cy="375.1" r="4.6"/>
<circle cx="373.2" cy="376.9" r="4.6"/>
<circle cx="400.6" cy="363.3" r="4.2"/>
<circle cx="404.0" cy="364.0" r="4.2"/>
<circle cx="407.5" cy="364.9" r="4.2"/>
<circle cx="406.0" cy="367.0" r="4.2"/>
<circle cx="403.6" cy="368.6" r="4.2"/>
<circle cx="401.7" cy="372.2" r="4.2"/>
<circle cx="410.9" cy="340.9" r="4.2"/>
<circle cx="411.4" cy="335.8" r="4.2"/>
<circle cx="411.7" cy="334.0" r="4.2"/>
<circle cx="412.1" cy="330.2" r="4.2"/>
<circle cx="413.9" cy="328.7" r="4.2"/>
<circle cx="416.5" cy="326.9" r="4.2"/>
<circle cx="418.4" cy="325.9" r="4.2"/>
<circle cx="421.1" cy="327.9" r="4.2"/>
<circle cx="423.2" cy="329.4" r="4.2"/>
<circle cx="424.8" cy="329.7" r="4.2"/>
<circle cx="429.3" cy="327.5" r="4.2"/>
<circle cx="431.4" cy="325.7" r="4.2"/>
<circle cx="434.1" cy="322.8" r="4.2"/>
<circle cx="437.0" cy="319.6" r="4.2"/>
<circle cx="438.7" cy="324.1" r="4.2"/>
<circle cx="440.6" cy="325.7" r="4.2"/>
<circle cx="443.5" cy="325.8" r="4.2"/>
<circle cx="447.2" cy="328.3" r="4.2"/>
<circle cx="449.8" cy="327.3" r="4.2"/>
<circle cx="452.2" cy="328.0" r="4.2"/>
<circle cx="455.3" cy="329.5" r="4.2"/>
<circle cx="457.8" cy="329.7" r="4.2"/>
<circle cx="460.2" cy="330.3" r="4.2"/>
<circle cx="463.8" cy="330.4" r="4.2"/>
<circle cx="465.6" cy="329.7" r="4.2"/>
<circle cx="469.0" cy="328.9" r="4.2"/>
<circle cx="471.9" cy="329.0" r="4.2"/>
<circle cx="474.4" cy="328.4" r="4.2"/>
<circle cx="477.4" cy="328.6" r="4.2"/>
<circle cx="479.7" cy="326.8" r="4.2"/>
<circle cx="482.2" cy="326.1" r="4.2"/>
<circle cx="485.1" cy="327.2" r="4.2"/>
<circle cx="487.4" cy="325.9" r="4.2"/>
<circle cx="490.5" cy="325.2" r="4.2"/>
<circle cx="493.4" cy="325.7" r="4.2"/>
<circle cx="495.0" cy="322.8" r="4.2"/>
<circle cx="496.9" cy="320.7" r="4.2"/>
<circle cx="498.3" cy="319.4" r="4.2"/>
<circle cx="500.0" cy="317.9" r="4.2"/>
<circle cx="500.5" cy="320.0" r="4.2"/>
<circle cx="501.8" cy="322.6" r="4.2"/>
<circle cx="503.5" cy="325.1" r="4.2"/>
<circle cx="505.0" cy="325.1" r="4.2"/>
<circle cx="508.3" cy="326.3" r="4.2"/>
<circle cx="510.8" cy="326.5" r="4.2"/>
<circle cx="513.0" cy="326.4" r="4.2"/>
<circle cx="516.6" cy="325.4" r="4.2"/>
<circle cx="519.7" cy="325.6" r="4.2"/>
<circle cx="521.1" cy="323.8" r="4.2"/>
<circle cx="524.0" cy="320.9" r="4.2"/>
<circle cx="532.2" cy="363.2" r="4.8"/>
<circle cx="533.3" cy="366.2" r="4.8"/>
<circle cx="534.8" cy="368.4" r="4.8"/>
<circle cx="536.6" cy="370.2" r="4.8"/>
<circle cx="539.2" cy="371.8" r="4.8"/>
<circle cx="541.2" cy="374.0" r="4.8"/>
<circle cx="543.5" cy="373.3" r="4.8"/>
<circle cx="546.9" cy="375.8" r="4.8"/>
<circle cx="550.1" cy="376.5" r="4.8"/>
<circle cx="552.9" cy="374.3" r="4.8"/>
<circle cx="555.7" cy="371.4" r="4.8"/>
<circle cx="557.7" cy="367.4" r="4.8"/>
<circle cx="572.8" cy="377.5" r="4.6"/>
<circle cx="574.4" cy="375.0" r="4.6"/>
<circle cx="576.5" cy="371.8" r="4.6"/>
<circle cx="580.0" cy="372.5" r="4.6"/>
<circle cx="583.2" cy="369.4" r="4.6"/>
<circle cx="585.5" cy="368.1" r="4.6"/>
<circle cx="588.2" cy="366.6" r="4.6"/>
<circle cx="591.4" cy="327.1" r="4.2"/>
<circle cx="594.0" cy="324.6" r="4.2"/>
<circle cx="595.2" cy="322.4" r="4.2"/>
<circle cx="596.7" cy="321.2" r="4.2"/>
<circle cx="598.2" cy="318.6" r="4.2"/>
<circle cx="601.7" cy="318.9" r="4.2"/>
<circle cx="605.4" cy="318.5" r="4.2"/>
<circle cx="609.6" cy="321.1" r="4.2"/>
<circle cx="612.4" cy="318.9" r="4.2"/>
<circle cx="612.9" cy="315.2" r="4.2"/>
<circle cx="613.6" cy="311.7" r="4.2"/>
<circle cx="613.8" cy="309.4" r="4.2"/>
<circle cx="616.3" cy="308.1" r="4.2"/>
<circle cx="617.1" cy="310.5" r="4.2"/>
<circle cx="617.1" cy="312.6" r="4.2"/>
<circle cx="617.8" cy="315.5" r="4.2"/>
<circle cx="619.4" cy="319.5" r="4.2"/>
<circle cx="621.0" cy="321.8" r="4.2"/>
<circle cx="623.1" cy="323.4" r="4.2"/>
<circle cx="625.7" cy="323.1" r="4.2"/>
<circle cx="628.6" cy="323.6" r="4.2"/>
<circle cx="631.3" cy="324.1" r="4.2"/>
<circle cx="634.5" cy="325.6" r="4.2"/>
<circle cx="636.8" cy="325.4" r="4.2"/>
<circle cx="640.0" cy="325.0" r="4.2"/>
<circle cx="641.9" cy="325.1" r="4.2"/>
<circle cx="644.7" cy="326.3" r="4.2"/>
<circle cx="647.6" cy="325.6" r="4.2"/>
<circle cx="650.7" cy="325.4" r="4.2"/>
<circle cx="653.4" cy="326.2" r="4.2"/>
<circle cx="655.7" cy="326.5" r="4.2"/>
<circle cx="658.4" cy="326.4" r="4.2"/>
<circle cx="661.7" cy="325.4" r="4.2"/>
<circle cx="664.2" cy="326.0" r="4.2"/>
<circle cx="666.9" cy="325.3" r="4.2"/>
<circle cx="670.0" cy="325.3" r="4.2"/>
<circle cx="672.8" cy="325.0" r="4.2"/>
<circle cx="675.2" cy="323.9" r="4.2"/>
<circle cx="677.7" cy="320.7" r="4.2"/>
<circle cx="679.6" cy="317.6" r="4.2"/>
<circle cx="681.8" cy="314.7" r="4.2"/>
<circle cx="683.0" cy="312.5" r="4.2"/>
<circle cx="683.8" cy="315.5" r="4.2"/>
<circle cx="684.8" cy="316.6" r="4.2"/>
<circle cx="686.2" cy="320.1" r="4.2"/>
<circle cx="688.9" cy="323.0" r="4.2"/>
<circle cx="690.9" cy="323.9" r="4.2"/>
<circle cx="692.8" cy="325.4" r="4.2"/>
<circle cx="696.4" cy="324.6" r="4.2"/>
<circle cx="699.1" cy="324.0" r="4.2"/>
<circle cx="701.2" cy="321.7" r="4.2"/>
<circle cx="704.1" cy="319.6" r="4.2"/>
<circle cx="704.1" cy="322.7" r="4.2"/>
<circle cx="705.1" cy="325.9" r="4.2"/>
<circle cx="710.8" cy="357.7" r="5.1"/>
<circle cx="712.2" cy="359.5" r="5.1"/>
<circle cx="714.1" cy="361.7" r="5.1"/>
<circle cx="715.4" cy="364.5" r="5.1"/>
<circle cx="716.6" cy="365.3" r="5.1"/>
<circle cx="720.4" cy="368.0" r="5.1"/>
<circle cx="723.3" cy="369.6" r="5.1"/>
<circle cx="725.4" cy="371.9" r="5.1"/>
<circle cx="727.6" cy="372.7" r="5.1"/>
<circle cx="730.3" cy="372.9" r="5.1"/>
<circle cx="733.0" cy="373.8" r="5.1"/>
<circle cx="734.9" cy="375.2" r="5.1"/>
<circle cx="737.7" cy="375.6" r="5.1"/>
<circle cx="741.0" cy="375.1" r="5.1"/>
<circle cx="743.9" cy="375.8" r="5.1"/>
<circle cx="747.4" cy="375.5" r="5.1"/>
<circle cx="749.8" cy="374.7" r="5.1"/>
<circle cx="752.9" cy="374.0" r="5.1"/>
<circle cx="755.4" cy="375.9" r="5.1"/>
<circle cx="758.4" cy="375.9" r="5.1"/>
<circle cx="761.8" cy="374.8" r="5.1"/>
<circle cx="764.0" cy="372.6" r="5.1"/>
<circle cx="767.5" cy="371.0" r="5.1"/>
<circle cx="767.8" cy="368.7" r="5.1"/>
<circle cx="768.9" cy="365.3" r="5.1"/>
<circle cx="770.4" cy="362.2" r="5.1"/>
<circle cx="774.2" cy="326.4" r="4.2"/>
<circle cx="775.8" cy="324.3" r="4.2"/>
<circle cx="778.6" cy="320.9" r="4.2"/>
<circle cx="781.6" cy="322.8" r="4.2"/>
<circle cx="784.2" cy="325.2" r="4.2"/>
<circle cx="786.5" cy="326.3" r="4.2"/>
<circle cx="789.7" cy="324.8" r="4.2"/>
<circle cx="790.8" cy="324.3" r="4.2"/>
<circle cx="791.2" cy="320.9" r="4.2"/>
<circle cx="792.2" cy="317.5" r="4.2"/>
<circle cx="793.1" cy="315.1" r="4.2"/>
<circle cx="794.1" cy="312.5" r="4.2"/>
<circle cx="795.7" cy="315.9" r="4.2"/>
<circle cx="797.5" cy="319.1" r="4.2"/>
<circle cx="798.6" cy="320.9" r="4.2"/>
<circle cx="801.5" cy="322.2" r="4.2"/>
<circle cx="803.3" cy="325.4" r="4.2"/>
<circle cx="806.4" cy="325.2" r="4.2"/>
<circle cx="808.8" cy="326.3" r="4.2"/>
<circle cx="811.4" cy="327.6" r="4.2"/>
<circle cx="814.0" cy="329.3" r="4.2"/>
<circle cx="817.0" cy="329.1" r="4.2"/>
<circle cx="819.3" cy="328.8" r="4.2"/>
<circle cx="822.2" cy="330.5" r="4.2"/>
<circle cx="824.3" cy="330.1" r="4.2"/>
<circle cx="827.4" cy="330.3" r="4.2"/>
<circle cx="829.3" cy="330.2" r="4.2"/>
<circle cx="832.1" cy="329.6" r="4.2"/>
<circle cx="835.1" cy="330.7" r="4.2"/>
<circle cx="837.7" cy="331.0" r="4.2"/>
<circle cx="840.4" cy="330.6" r="4.2"/>
<circle cx="842.4" cy="330.7" r="4.2"/>
<circle cx="845.8" cy="330.3" r="4.2"/>
<circle cx="848.2" cy="328.3" r="4.2"/>
<circle cx="850.4" cy="327.9" r="4.2"/>
<circle cx="853.4" cy="327.9" r="4.2"/>
<circle cx="855.6" cy="327.9" r="4.2"/>
<circle cx="859.0" cy="326.9" r="4.2"/>
<circle cx="861.1" cy="325.3" r="4.2"/>
<circle cx="863.4" cy="325.9" r="4.2"/>
<circle cx="866.5" cy="324.4" r="4.2"/>
<circle cx="869.3" cy="325.4" r="4.2"/>
<circle cx="871.5" cy="325.5" r="4.2"/>
<circle cx="874.4" cy="326.0" r="4.2"/>
<circle cx="877.0" cy="324.0" r="4.2"/>
<circle cx="879.6" cy="323.0" r="4.2"/>
<circle cx="882.4" cy="321.6" r="4.2"/>
<circle cx="883.6" cy="320.3" r="4.2"/>
<circle cx="885.5" cy="318.4" r="4.2"/>
<circle cx="887.6" cy="316.4" r="4.2"/>
<circle cx="888.9" cy="362.4" r="4.6"/>
<circle cx="891.0" cy="363.8" r="4.6"/>
<circle cx="892.8" cy="365.4" r="4.6"/>
<circle cx="894.9" cy="367.1" r="4.6"/>
<circle cx="896.7" cy="369.5" r="4.6"/>
<circle cx="899.1" cy="370.5" r="4.6"/>
<circle cx="901.9" cy="371.3" r="4.6"/>
<circle cx="903.9" cy="373.0" r="4.6"/>
<circle cx="907.0" cy="373.3" r="4.6"/>
<circle cx="909.1" cy="375.2" r="4.6"/>
<circle cx="912.4" cy="375.7" r="4.6"/>
<circle cx="914.8" cy="375.2" r="4.6"/>
<circle cx="918.3" cy="375.8" r="4.6"/>
<circle cx="920.5" cy="377.4" r="4.6"/>
<circle cx="924.2" cy="376.5" r="4.6"/>
<circle cx="927.8" cy="376.5" r="4.6"/>
<circle cx="930.6" cy="375.3" r="4.6"/>
<circle cx="932.7" cy="374.1" r="4.6"/>
<circle cx="936.3" cy="372.7" r="4.6"/>
<circle cx="939.3" cy="372.3" r="4.6"/>
<circle cx="942.1" cy="372.6" r="4.6"/>
<circle cx="945.1" cy="369.7" r="4.6"/>
<circle cx="948.1" cy="369.6" r="4.6"/>
<circle cx="950.9" cy="367.0" r="4.6"/>
<circle cx="954.4" cy="329.9" r="4.2"/>
<circle cx="954.3" cy="325.7" r="4.2"/>
<circle cx="955.7" cy="324.0" r="4.2"/>
<circle cx="955.5" cy="320.6" r="4.2"/>
<circle cx="956.7" cy="317.4" r="4.2"/>
<circle cx="958.7" cy="319.9" r="4.2"/>
<circle cx="960.3" cy="322.0" r="4.2"/>
<circle cx="962.4" cy="324.6" r="4.2"/>
<circle cx="964.6" cy="326.1" r="4.2"/>
<circle cx="966.3" cy="322.9" r="4.2"/>
<circle cx="968.3" cy="319.9" r="4.2"/>
<circle cx="969.3" cy="317.0" r="4.2"/>
<circle cx="972.0" cy="316.6" r="4.2"/>
<circle cx="974.5" cy="319.4" r="4.2"/>
<circle cx="976.3" cy="321.3" r="4.2"/>
<circle cx="977.6" cy="322.0" r="4.2"/>
<circle cx="978.4" cy="325.3" r="4.2"/>
<circle cx="978.9" cy="327.2" r="4.2"/>
<circle cx="981.6" cy="328.6" r="4.2"/>
<circle cx="984.6" cy="329.3" r="4.2"/>
<circle cx="987.2" cy="330.1" r="4.2"/>
<circle cx="989.4" cy="329.2" r="4.2"/>
<circle cx="992.4" cy="329.5" r="4.2"/>
<circle cx="994.8" cy="329.8" r="4.2"/>
<circle cx="997.9" cy="330.4" r="4.2"/>
<circle cx="1000.7" cy="331.1" r="4.2"/>
<circle cx="1002.9" cy="330.0" r="4.2"/>
<circle cx="1005.6" cy="330.0" r="4.2"/>
<circle cx="1008.7" cy="328.7" r="4.2"/>
<circle cx="1011.3" cy="329.4" r="4.2"/>
<circle cx="1014.2" cy="330.3" r="4.2"/>
<circle cx="1016.8" cy="329.3" r="4.2"/>
<circle cx="1020.0" cy="330.1" r="4.2"/>
<circle cx="1021.9" cy="330.8" r="4.2"/>
<circle cx="1025.1" cy="331.8" r="4.2"/>
<circle cx="1028.2" cy="332.3" r="4.2"/>
<circle cx="1031.4" cy="332.4" r="4.2"/>
<circle cx="1034.8" cy="330.4" r="4.2"/>
<circle cx="1037.4" cy="330.9" r="4.2"/>
<circle cx="1041.4" cy="328.3" r="4.2"/>
<circle cx="1042.9" cy="325.7" r="4.2"/>
<circle cx="1043.4" cy="321.7" r="4.2"/>
<circle cx="1043.6" cy="320.1" r="4.2"/>
<circle cx="1044.0" cy="317.0" r="4.2"/>
<circle cx="1044.9" cy="313.7" r="4.2"/>
<circle cx="1044.7" cy="311.9" r="4.2"/>
<circle cx="1047.3" cy="315.7" r="4.2"/>
<circle cx="1048.6" cy="317.9" r="4.2"/>
<circle cx="1050.3" cy="319.9" r="4.2"/>
<circle cx="1051.1" cy="323.9" r="4.2"/>
<circle cx="1053.2" cy="325.7" r="4.2"/>
<circle cx="1056.5" cy="325.1" r="4.2"/>
<circle cx="1059.4" cy="325.0" r="4.2"/>
<circle cx="1062.0" cy="322.0" r="4.2"/>
<circle cx="1064.6" cy="322.4" r="4.2"/>
<circle cx="1067.8" cy="322.2" r="4.2"/>
<circle cx="1071.2" cy="363.6" r="4.8"/>
<circle cx="1072.2" cy="366.1" r="4.8"/>
<circle cx="1074.5" cy="368.0" r="4.8"/>
<circle cx="1076.6" cy="368.2" r="4.8"/>
<circle cx="1079.4" cy="369.2" r="4.8"/>
<circle cx="1082.2" cy="371.2" r="4.8"/>
<circle cx="1084.2" cy="372.5" r="4.8"/>
<circle cx="1086.5" cy="375.1" r="4.8"/>
<circle cx="1089.2" cy="376.1" r="4.8"/>
<circle cx="1091.6" cy="376.4" r="4.8"/>
<circle cx="1094.5" cy="376.4" r="4.8"/>
<circle cx="1097.4" cy="377.5" r="4.8"/>
<circle cx="1101.4" cy="377.8" r="4.8"/>
<circle cx="1103.9" cy="376.8" r="4.8"/>
<circle cx="1106.8" cy="377.0" r="4.8"/>
<circle cx="1109.7" cy="376.4" r="4.8"/>
<circle cx="1112.5" cy="377.2" r="4.8"/>
<circle cx="1116.5" cy="376.5" r="4.8"/>
<circle cx="1119.3" cy="374.2" r="4.8"/>
<circle cx="1122.2" cy="375.0" r="4.8"/>
<circle cx="1124.7" cy="372.3" r="4.8"/>
<circle cx="1126.1" cy="370.4" r="4.8"/>
<circle cx="1127.5" cy="368.3" r="4.8"/>
<circle cx="1129.5" cy="366.5" r="4.8"/>
<circle cx="1132.0" cy="363.7" r="4.8"/>
<circle cx="1134.5" cy="361.1" r="4.8"/>
<circle cx="1134.5" cy="335.5" r="3.5"/>
<circle cx="1135.7" cy="331.5" r="3.5"/>
<circle cx="1136.4" cy="329.6" r="3.5"/>
<circle cx="1137.5" cy="326.2" r="3.5"/>
<circle cx="1139.4" cy="322.9" r="3.5"/>
<circle cx="1140.7" cy="321.7" r="3.5"/>
<circle cx="1141.8" cy="319.9" r="3.5"/>
<circle cx="1143.5" cy="316.2" r="3.5"/>
<circle cx="1144.4" cy="314.4" r="3.5"/>
<circle cx="1146.2" cy="311.1" r="3.5"/>
<circle cx="1147.9" cy="308.5" r="3.5"/>
<circle cx="1148.9" cy="306.6" r="3.5"/>
<circle cx="1151.6" cy="302.8" r="3.5"/>
<circle cx="1152.8" cy="306.2" r="3.5"/>
<circle cx="1154.4" cy="307.2" r="3.5"/>
<circle cx="1155.2" cy="310.1" r="3.5"/>
<circle cx="1155.3" cy="312.9" r="3.5"/>
<circle cx="1156.4" cy="316.0" r="3.5"/>
<circle cx="1156.9" cy="318.1" r="3.5"/>
<circle cx="1157.3" cy="319.5" r="3.5"/>
<circle cx="1157.4" cy="319.6" r="4.2"/>
<circle cx="1159.3" cy="322.3" r="4.2"/>
<circle cx="1160.4" cy="325.3" r="4.2"/>
<circle cx="1161.4" cy="327.7" r="4.2"/>
<circle cx="1165.9" cy="326.2" r="4.2"/>
<circle cx="1167.8" cy="324.6" r="4.2"/>
<circle cx="1169.8" cy="322.5" r="4.2"/>
<circle cx="1170.6" cy="319.5" r="4.2"/>
<circle cx="1172.1" cy="318.3" r="4.2"/>
<circle cx="1174.3" cy="314.9" r="4.2"/>
<circle cx="1175.4" cy="313.2" r="4.2"/>
<circle cx="1177.4" cy="311.6" r="4.2"/>
<circle cx="1178.4" cy="313.5" r="4.2"/>
<circle cx="1179.2" cy="315.2" r="4.2"/>
<circle cx="1180.3" cy="317.6" r="4.2"/>
<circle cx="1181.5" cy="322.7" r="4.2"/>
<circle cx="1181.8" cy="323.8" r="4.8"/>
<circle cx="1184.4" cy="325.3" r="4.8"/>
<circle cx="1187.2" cy="328.3" r="4.8"/>
<circle cx="1189.6" cy="330.2" r="4.8"/>
<circle cx="1193.1" cy="330.2" r="4.8"/>
<circle cx="1195.0" cy="332.8" r="4.8"/>
<circle cx="1198.2" cy="333.0" r="4.8"/>
<circle cx="1200.8" cy="332.3" r="4.8"/>
<circle cx="1203.9" cy="332.2" r="4.8"/>
<circle cx="1206.2" cy="332.1" r="4.8"/>
<circle cx="1208.8" cy="333.5" r="4.8"/>
<circle cx="1211.5" cy="332.2" r="4.8"/>
<circle cx="1214.0" cy="332.4" r="4.8"/>
<circle cx="1217.6" cy="332.7" r="4.8"/>
<circle cx="1220.2" cy="332.6" r="4.8"/>
<circle cx="1222.6" cy="331.4" r="4.8"/>
<circle cx="72.0" cy="315.0" r="3.6"/>
<circle cx="136.5" cy="302.6" r="3.6"/>
<circle cx="159.3" cy="356.3" r="3.6"/>
<circle cx="162.6" cy="365.0" r="3.6"/>
<circle cx="199.0" cy="240.0" r="3.6"/>
<circle cx="203.0" cy="238.0" r="3.6"/>
<circle cx="200.0" cy="245.0" r="3.6"/>
<circle cx="206.0" cy="248.0" r="3.6"/>
<circle cx="197.8" cy="255.2" r="3.6"/>
<circle cx="207.6" cy="262.4" r="3.6"/>
<circle cx="196.0" cy="271.1" r="3.6"/>
<circle cx="209.1" cy="280.2" r="3.6"/>
<circle cx="194.5" cy="289.0" r="3.6"/>
<circle cx="192.1" cy="308.0" r="3.6"/>
<circle cx="190.6" cy="331.3" r="3.6"/>
<circle cx="189.5" cy="359.6" r="3.6"/>
<circle cx="211.3" cy="303.0" r="3.6"/>
<circle cx="213.4" cy="331.3" r="3.6"/>
<circle cx="215.0" cy="350.9" r="3.6"/>
<circle cx="227.1" cy="349.8" r="3.6"/>
<circle cx="230.4" cy="342.2" r="3.6"/>
<circle cx="254.1" cy="311.7" r="3.6"/>
<circle cx="318.0" cy="310.7" r="3.6"/>
<circle cx="341.0" cy="305.2" r="3.6"/>
<circle cx="386.3" cy="230.9" r="3.6"/>
<circle cx="383.0" cy="230.0" r="3.6"/>
<circle cx="390.0" cy="232.0" r="3.6"/>
<circle cx="382.6" cy="240.4" r="3.6"/>
<circle cx="390.2" cy="242.2" r="3.6"/>
<circle cx="380.4" cy="250.9" r="3.6"/>
<circle cx="391.9" cy="257.8" r="3.6"/>
<circle cx="378.9" cy="261.7" r="3.6"/>
<circle cx="393.4" cy="278.0" r="3.6"/>
<circle cx="376.7" cy="276.5" r="3.6"/>
<circle cx="375.0" cy="302.0" r="3.6"/>
<circle cx="372.8" cy="348.3" r="3.6"/>
<circle cx="395.6" cy="312.8" r="3.6"/>
<circle cx="397.8" cy="347.0" r="3.6"/>
<circle cx="524.5" cy="336.7" r="3.6"/>
<circle cx="526.7" cy="342.2" r="3.6"/>
<circle cx="526.9" cy="359.6" r="3.6"/>
<circle cx="559.3" cy="337.8" r="3.6"/>
<circle cx="560.4" cy="313.9" r="3.6"/>
<circle cx="563.7" cy="304.1" r="3.6"/>
<circle cx="566.9" cy="306.3" r="3.6"/>
<circle cx="569.1" cy="321.5" r="3.6"/>
<circle cx="570.2" cy="341.1" r="3.6"/>
<circle cx="707.1" cy="344.4" r="3.6"/>
<circle cx="771.9" cy="339.2" r="3.6"/>
<circle cx="795.1" cy="287.8" r="3.6"/>
<circle cx="863.7" cy="302.6" r="3.6"/>
<circle cx="865.8" cy="316.5" r="3.6"/>
<circle cx="886.7" cy="335.3" r="3.6"/>
<circle cx="886.7" cy="362.7" r="3.6"/>
<circle cx="951.9" cy="342.2" r="3.6"/>
<circle cx="973.7" cy="303.5" r="3.6"/>
<circle cx="1066.3" cy="311.7" r="3.6"/>
<circle cx="1069.8" cy="351.0" r="3.6"/>
<circle cx="342.2" cy="345.0" r="3.6"/>
<circle cx="344.0" cy="354.5" r="3.6"/>
<circle cx="373.3" cy="348.5" r="3.6"/>
<circle cx="528.4" cy="358.7" r="3.6"/>
<circle cx="524.8" cy="337.2" r="3.6"/>
<circle cx="525.4" cy="343.2" r="3.6"/>
<circle cx="558.9" cy="338.4" r="3.6"/>
<circle cx="571.4" cy="362.3" r="3.6"/>
<circle cx="570.2" cy="341.4" r="3.6"/>
<circle cx="590.0" cy="356.9" r="3.6"/>
<circle cx="591.8" cy="348.0" r="3.6"/>
<circle cx="707.0" cy="344.0" r="3.6"/>
<circle cx="770.2" cy="362.0" r="3.6"/>
<circle cx="189.5" cy="359.9" r="3.6"/>
<circle cx="190.0" cy="332.4" r="3.6"/>
</g>
<polyline clip-path="url(#c)" points="70.8,256.0 71.5,285.0 72.8,300.0 73.2,340.0 73.6,354.0 76.0,359.0 79.0,362.6 83.0,366.0 88.0,368.0 95.0,367.0 100.0,368.0 105.0,366.0 110.0,367.0 115.0,367.0 120.0,366.0 125.0,363.0 128.0,360.0 130.0,355.0 131.0,340.0 132.0,300.0 133.0,245.0 133.5,227.0 134.5,212.0 136.5,211.0 137.0,240.0 138.0,300.0 138.7,353.0 145.0,353.0 150.0,353.5 152.0,352.0 154.0,330.0 156.0,314.0 157.5,330.0 159.6,340.0 160.2,350.3 162.0,351.5 164.4,354.0 165.6,357.5 166.7,355.7 168.5,358.7 169.7,356.9 171.5,358.7 173.9,359.3 175.7,362.3 178.7,361.3 181.1,361.7 185.9,361.7 187.1,359.9 187.7,353.9 188.9,342.0 190.0,330.0 190.6,327.0 192.8,300.9 193.9,290.0 195.4,277.0 198.2,255.0 202.1,242.2 205.4,250.9 208.4,272.6 210.2,290.0 212.3,311.7 214.5,333.5 216.7,353.0 220.0,357.0 223.2,356.3 225.4,346.5 227.6,322.6 229.7,303.0 230.8,297.6 232.5,312.0 234.1,284.0 235.2,311.7 236.3,350.9 239.5,357.4 242.8,356.3 247.1,354.0 249.3,333.5 250.5,290.0 251.5,260.0 253.0,235.0 254.5,245.0 255.8,290.0 256.7,300.0 257.8,348.7 261.0,359.6 267.6,365.0 274.0,366.0 280.6,367.2 286.0,365.0 288.2,367.2 298.0,367.2 304.5,365.0 311.0,355.2 314.3,350.9 315.4,290.0 316.5,240.0 318.0,237.4 319.7,250.0 321.9,290.0 324.0,322.6 326.3,353.0 328.4,355.2 330.6,352.0 335.0,353.0 337.1,352.0 338.2,290.0 339.3,250.0 340.3,245.4 341.5,260.0 342.3,311.7 344.6,330.0 345.2,343.2 346.4,350.3 348.2,353.9 350.0,356.9 353.5,355.7 355.9,355.7 358.9,359.3 361.3,361.1 363.7,361.7 369.7,361.1 370.9,359.3 371.5,353.9 372.1,344.4 373.0,330.0 374.5,322.6 375.4,290.0 376.7,285.7 379.3,263.9 382.6,244.3 386.3,232.4 390.2,244.3 393.4,268.3 395.0,290.0 395.6,322.6 398.9,348.7 403.2,359.6 407.6,350.9 410.8,322.6 413.0,287.0 414.0,300.9 416.3,333.5 418.4,350.9 422.8,357.4 425.0,355.2 427.1,356.3 429.3,353.0 431.5,322.6 433.7,296.5 435.6,273.7 437.8,290.0 438.9,322.6 441.0,346.5 443.2,357.4 449.7,363.9 456.3,366.5 467.1,366.5 471.5,367.2 480.2,365.7 486.7,362.8 492.1,357.4 495.4,346.5 497.1,322.6 498.5,277.0 500.4,247.0 502.0,260.0 504.0,290.0 504.1,322.6 506.3,349.8 508.4,350.9 510.6,349.8 513.9,352.0 516.0,354.1 519.3,352.0 521.0,333.5 521.9,290.0 523.3,252.6 525.0,270.0 525.6,290.0 526.7,322.6 527.8,330.0 528.4,345.5 529.6,351.5 532.0,353.9 535.6,355.1 539.1,358.7 543.9,360.5 549.9,361.7 554.7,360.5 556.5,357.5 557.7,349.1 558.3,342.0 559.5,330.0 560.4,322.6 562.6,305.2 564.1,303.0 565.8,305.2 568.0,318.3 570.2,330.0 571.4,342.0 572.6,353.9 574.4,361.1 577.4,362.3 582.2,361.7 585.8,359.9 588.2,356.3 590.6,351.5 591.8,346.7 592.4,330.0 593.7,290.0 597.3,272.6 600.5,285.0 602.8,290.0 605.0,344.3 606.7,348.7 608.2,342.2 610.4,290.0 613.0,255.0 615.8,232.4 617.5,245.0 619.3,290.0 621.0,322.6 622.1,340.0 624.3,346.5 626.5,359.6 629.7,362.8 636.3,365.7 640.6,366.5 642.8,365.0 647.1,366.5 658.0,366.5 664.5,363.9 671.0,360.7 674.3,357.4 676.5,346.5 678.0,322.6 679.3,290.0 681.5,250.0 683.0,233.5 685.0,250.0 687.3,290.0 688.9,322.6 690.2,354.1 693.9,353.5 697.1,353.0 700.4,353.5 701.5,348.7 702.6,322.6 703.7,290.0 705.3,285.7 706.0,284.4 708.4,296.1 709.7,322.2 711.0,335.0 711.6,353.0 714.6,357.0 718.2,356.5 720.6,360.0 726.5,361.3 733.7,361.9 739.7,360.7 744.5,361.9 752.8,361.9 756.4,363.1 761.2,361.9 764.8,360.1 767.2,356.5 768.4,358.3 770.2,355.3 772.6,350.6 773.8,335.0 774.2,309.2 775.8,270.0 776.5,250.0 778.0,239.6 779.5,255.0 781.0,270.0 781.6,322.2 784.2,336.6 786.8,343.1 788.1,332.7 789.4,296.1 790.7,270.0 791.9,240.0 793.2,226.5 794.5,191.3 796.3,213.5 797.8,246.0 798.9,270.0 799.7,275.0 801.0,309.2 803.7,330.0 805.0,343.1 807.6,361.4 810.2,360.1 812.8,362.7 815.4,361.4 818.0,365.3 827.2,367.9 840.2,367.1 845.4,365.3 852.0,361.4 856.4,356.2 858.0,335.3 859.8,296.1 861.1,270.0 862.5,230.0 864.5,207.0 866.0,230.0 867.6,270.0 868.9,309.2 871.0,345.7 874.2,350.9 879.4,353.0 880.7,322.2 882.3,311.7 883.4,290.0 885.6,273.7 887.8,290.0 889.8,340.0 889.8,348.0 892.2,351.5 894.6,357.5 900.5,360.5 909.0,361.3 921.0,361.7 929.3,361.3 935.2,362.3 942.4,362.0 947.2,358.7 950.2,357.0 953.8,330.0 954.5,311.7 955.2,290.0 956.5,265.0 958.4,252.0 960.0,265.0 960.6,290.0 961.7,307.4 962.8,294.3 963.9,272.6 966.0,267.2 969.3,253.0 971.5,233.5 973.3,217.2 974.7,222.6 975.6,224.8 977.1,266.1 978.4,290.0 980.0,340.0 983.2,346.5 985.4,348.7 987.6,344.3 989.7,353.0 991.9,359.6 996.3,365.0 1002.8,367.2 1011.5,367.2 1020.2,363.9 1022.3,367.8 1026.7,366.1 1031.0,365.0 1035.4,359.6 1039.7,358.5 1041.5,333.5 1043.0,290.0 1044.5,260.0 1046.7,229.1 1049.0,255.0 1051.7,290.0 1052.8,322.6 1055.0,355.2 1058.2,355.2 1060.4,344.3 1061.9,311.7 1063.4,290.0 1064.8,265.0 1066.3,241.1 1067.5,265.0 1068.9,290.0 1069.8,338.0 1071.0,348.0 1073.4,352.7 1076.4,358.1 1080.0,360.0 1081.7,357.5 1083.5,361.7 1090.1,360.5 1094.9,361.3 1100.9,361.7 1106.9,362.3 1112.8,362.5 1118.8,361.3 1124.8,358.7 1127.2,357.5 1130.2,358.1 1131.4,354.0 1132.6,350.3 1133.2,330.0 1134.1,300.9 1135.2,290.0 1138.0,265.0 1141.7,290.0 1143.9,300.9 1145.4,290.0 1148.2,255.2 1150.7,227.0 1153.7,237.8 1157.0,261.7 1157.4,290.0 1159.6,333.5 1161.7,344.3 1163.5,347.0 1166.1,342.2 1168.3,331.3 1172.6,324.8 1176.5,321.5 1178.0,333.5 1179.6,355.2 1182.4,366.1 1186.7,367.8 1192.2,367.2 1196.5,365.0 1198.7,367.2 1202.0,368.7 1205.2,367.8 1211.7,366.1 1217.2,363.9 1219.3,359.6 1222.2,354.8" fill="none" stroke="#000" stroke-width="1.1" stroke-linejoin="miter" shape-rendering="crispEdges"/>
<text x="63.8" y="388.5" font-size="24.5" text-anchor="end">0</text>
<text x="63.8" y="338.2" font-size="24.5" text-anchor="end">1</text>
<text x="63.8" y="279.1" font-size="24.5" text-anchor="end">2</text>
<text x="63.8" y="219.9" font-size="24.5" text-anchor="end">3</text>
<text x="63.8" y="160.7" font-size="24.5" text-anchor="end">4</text>
<text x="63.8" y="101.6" font-size="24.5" text-anchor="end">5</text>
<text x="63.8" y="48.5" font-size="24.5" text-anchor="end">6</text>
<text x="174.9" y="419.5" font-size="24.5" textLength="62.4" lengthAdjust="spacingAndGlyphs">00:00</text>
<text x="403.1" y="419.5" font-size="24.5" textLength="62.4" lengthAdjust="spacingAndGlyphs">02:00</text>
<text x="631.3" y="419.5" font-size="24.5" textLength="62.4" lengthAdjust="spacingAndGlyphs">04:00</text>
<text x="859.5" y="419.5" font-size="24.5" textLength="62.4" lengthAdjust="spacingAndGlyphs">06:00</text>
<text x="1087.7" y="419.5" font-size="24.5" textLength="62.4" lengthAdjust="spacingAndGlyphs">08:00</text>
<text x="455" y="447.5" font-size="25" textLength="383" lengthAdjust="spacingAndGlyphs">Start Time (14–03–2009 22:48:58)</text>
<text transform="translate(31,350.5) rotate(-90)" font-size="25">Log [cts detector<tspan font-size="15" dy="-12">−1</tspan><tspan dy="12"> DGI</tspan><tspan font-size="15" dy="-12">−1</tspan><tspan dy="12">]</tspan></text>
</svg></body></html>
